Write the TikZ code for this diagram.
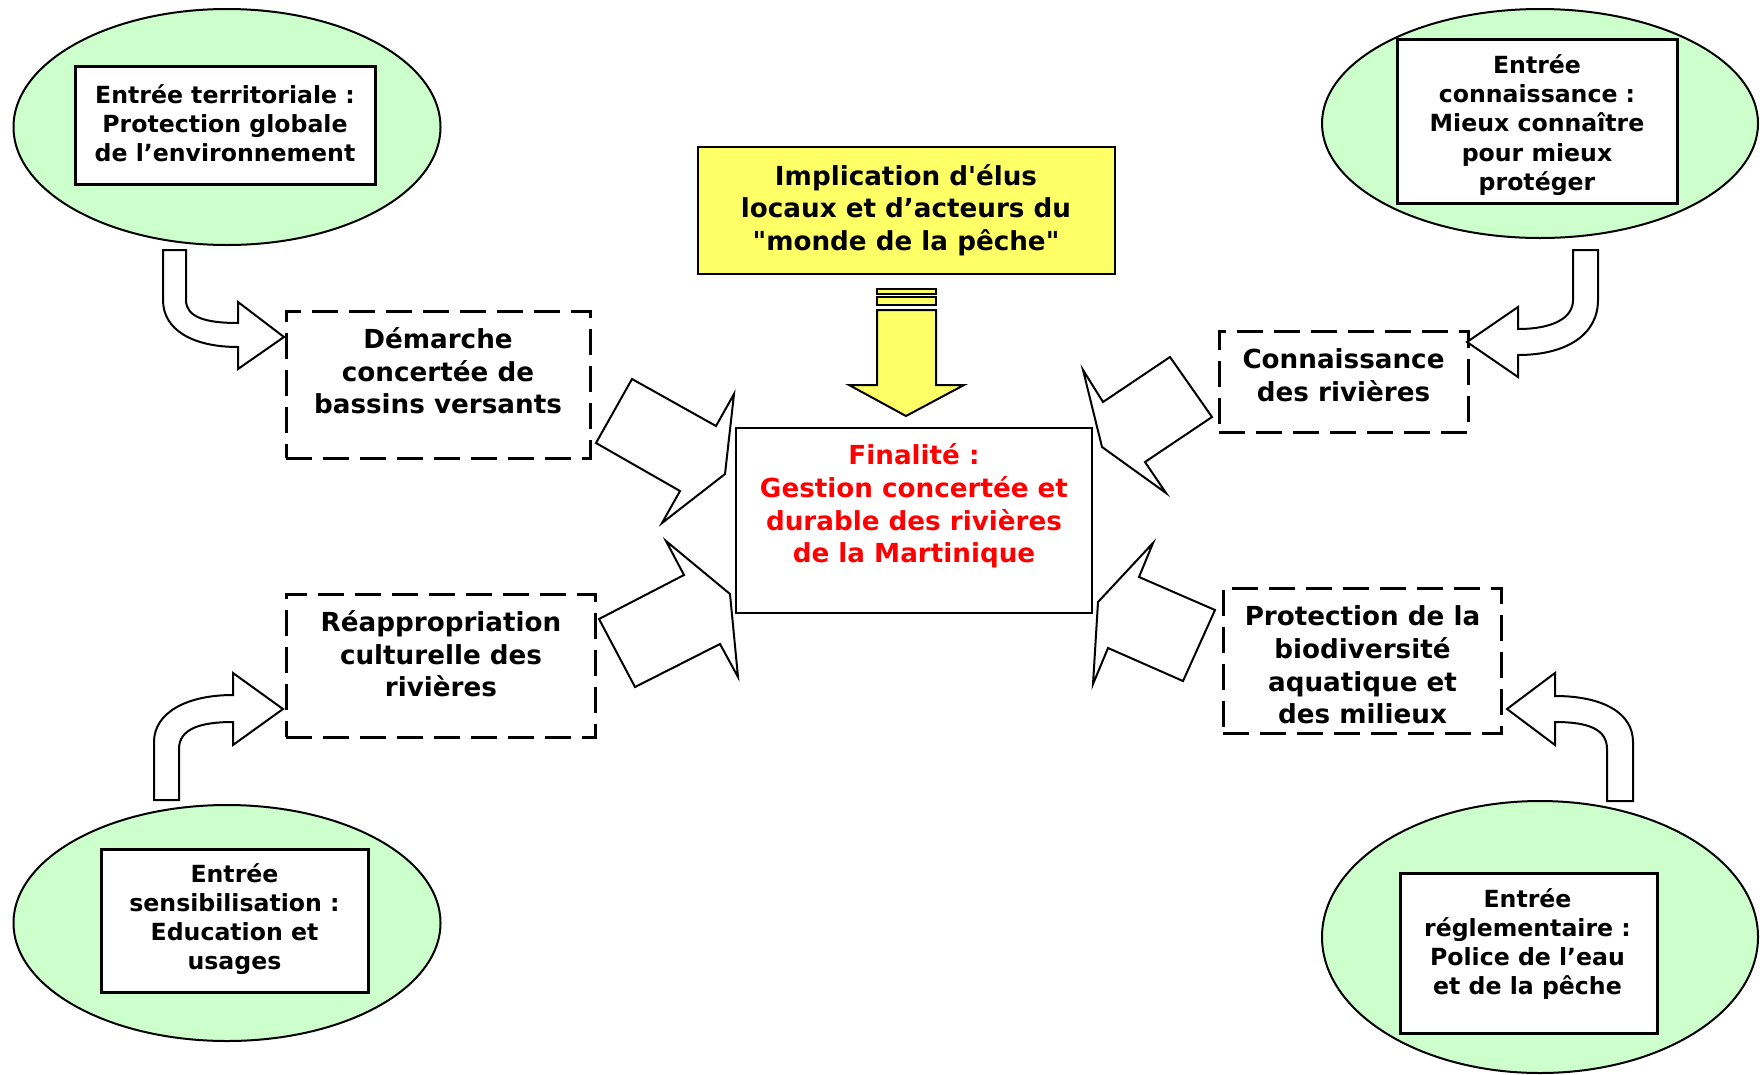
\documentclass[tikz,border=0pt]{standalone}
\usepackage{fontspec}
\setmainfont{DejaVu Sans}
\usetikzlibrary{shapes.geometric}
\definecolor{vertpale}{HTML}{CCFFCC}
\definecolor{jaune}{HTML}{FFFF66}
\tikzset{
  bulle/.style={ellipse,draw,fill=vertpale,line width=2pt,inner sep=0pt},
  cadre/.style={rectangle,draw,fill=white,line width=3pt,inner sep=0pt},
  tirets/.style={rectangle,draw,line width=3pt,dash pattern=on 26pt off 11pt,inner sep=0pt},
  finbox/.style={rectangle,draw,line width=2pt,inner sep=0pt},
  jaunebox/.style={rectangle,draw,fill=jaune,line width=2pt,inner sep=0pt},
  petit/.style={align=center,inner sep=0pt,font=\bfseries\fontsize{23.6}{29.2}\selectfont},
  grand/.style={align=center,inner sep=0pt,font=\bfseries\fontsize{26.2}{32.6}\selectfont},
  fleche/.style={draw,fill=white,line width=2pt,line join=miter}
}
\begin{document}
\begin{tikzpicture}[x=1pt, y=-1pt]
  \useasboundingbox (0,0) rectangle (1760,1074);

  % les quatre entrees
  \node[bulle, minimum width=427pt, minimum height=236pt] (bulle-1) at (227,127) {};
  \node[bulle, minimum width=436pt, minimum height=229pt] (bulle-2) at (1540,123.5) {};
  \node[bulle, minimum width=427pt, minimum height=236pt] (bulle-3) at (227,923) {};
  \node[bulle, minimum width=436pt, minimum height=272pt] (bulle-4) at (1540,937) {};

  \node[cadre, minimum width=300pt, minimum height=118pt] (cadre-1) at (225,125) {};
  \node[cadre, minimum width=280pt, minimum height=164pt] (cadre-2) at (1537,121) {};
  \node[cadre, minimum width=267pt, minimum height=143pt] (cadre-3) at (234.5,920.5) {};
  \node[cadre, minimum width=257pt, minimum height=160pt] (cadre-4) at (1528.5,953) {};

  \node[petit] (texte-1) at (225,123) {Entrée territoriale :\\Protection globale\\de l’environnement};
  \node[petit] (texte-2) at (1537,125) {Entrée\\connaissance :\\Mieux connaître\\pour mieux\\protéger};
  \node[petit] (texte-3) at (234.5,919) {Entrée\\sensibilisation :\\Education et\\usages};
  \node[petit] (texte-4) at (1527.5,944) {Entrée\\réglementaire :\\Police de l’eau\\et de la pêche};

  % implication et finalite
  \node[jaunebox, minimum width=417pt, minimum height=127pt] (elus) at (906.5,210.5) {};
  \node[grand] (texte-elus) at (906,210) {Implication d\textquotesingle élus\\locaux et d’acteurs du\\\textquotedbl monde de la pêche\textquotedbl};

  \node[finbox, minimum width=356pt, minimum height=185pt] (fin) at (914,520.5) {};
  \node[grand, text=red] (texte-fin) at (914,506) {Finalité :\\Gestion concertée et\\durable des rivières\\de la Martinique};

  % les quatre axes
  \node[tirets, minimum width=304pt, minimum height=147pt] (axe-1) at (438,384.5) {};
  \node[tirets, minimum width=309pt, minimum height=143pt] (axe-2) at (440.5,665.5) {};
  \node[tirets, minimum width=249pt, minimum height=101pt] (axe-3) at (1343.5,381.5) {};
  \node[tirets, minimum width=278pt, minimum height=145pt] (axe-4) at (1362,660.5) {};

  \node[grand] (texte-axe-1) at (438,371) {Démarche\\concertée de\\bassins versants};
  \node[grand] (texte-axe-2) at (441,654) {Réappropriation\\culturelle des\\rivières};
  \node[grand] (texte-axe-3) at (1343.5,375) {Connaissance\\des rivières};
  \node[grand] (texte-axe-4) at (1362.5,665) {Protection de la\\biodiversité\\aquatique et\\des milieux};

  % fleche jaune
  \draw[fill=jaune, line width=2pt] (877,289) rectangle (936,294);
  \draw[fill=jaune, line width=2pt] (877,297) rectangle (936,305);
  \draw[fill=jaune, line width=2pt, line join=miter] (877,310) -- (936,310) -- (936,385)
    -- (964,385) -- (906,416) -- (849,385) -- (877,385) -- cycle;

  % grosses fleches vers la finalite
  \draw[fleche] (632,379) -- (716,426) -- (734,394) -- (725,474) -- (662,523) -- (680,491) -- (596,443) -- cycle;
  \draw[fleche] (1083,370) -- (1103,402) -- (1170,357) -- (1212,417) -- (1145,462) -- (1166,493) -- (1102,447) -- cycle;
  \draw[fleche] (666,541) -- (730,594) -- (738,677) -- (720,644) -- (635,687) -- (599,619) -- (684,575) -- cycle;
  \draw[fleche] (1153,543) -- (1139,577) -- (1215,610) -- (1183,681) -- (1108,648) -- (1093,684) -- (1098,602) -- cycle;

  % fleches courbes
  \draw[fleche] (163,250) -- (186,250) -- (186,300) .. controls (186,317) and (205,323) .. (238,323)
    -- (238,302) -- (284,337) -- (238,369) -- (238,347) .. controls (193,347) and (163,330) .. (163,300) -- cycle;
  \draw[fleche] (1598,250) -- (1573,250) -- (1573,300) .. controls (1573,318) and (1553,329) .. (1518,329)
    -- (1518,307) -- (1467,342) -- (1518,377) -- (1518,355) .. controls (1566,355) and (1598,335) .. (1598,300) -- cycle;
  \draw[fleche] (154,800) -- (154,742) .. controls (154,713) and (186,695) .. (233,695)
    -- (233,673) -- (283,709) -- (233,745) -- (233,722) .. controls (200,722) and (179,729) .. (179,749) -- (179,800) -- cycle;
  \draw[fleche] (1633,801) -- (1633,742) .. controls (1633,713) and (1603,696) .. (1555,696)
    -- (1555,673) -- (1507,709) -- (1555,745) -- (1555,722) .. controls (1588,722) and (1607,729) .. (1607,749) -- (1607,801) -- cycle;
\end{tikzpicture}
\end{document}
